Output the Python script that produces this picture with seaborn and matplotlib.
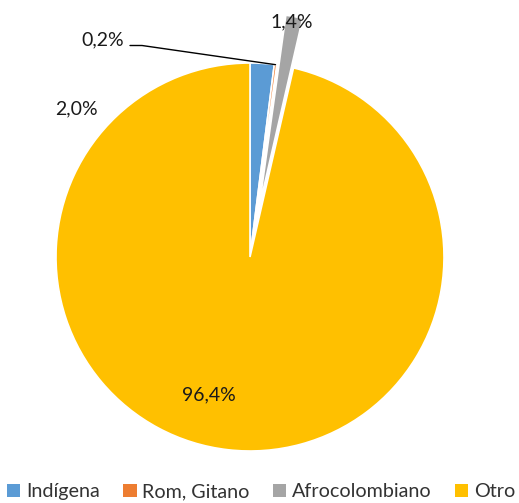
import matplotlib.pyplot as plt
import numpy as np
import seaborn as sns
from matplotlib.patches import Patch

categorias = ['Indígena', 'Rom, Gitano', 'Afrocolombiano', 'Otro']
porcentajes = [2.0, 0.2, 1.4, 96.4]
etiquetas = ['2,0%', '0,2%', '1,4%', '96,4%']
colores = ['#5B9BD5', '#ED7D31', '#A5A5A5', '#FFC000']

sns.set_theme(style='white')
plt.rcParams['font.family'] = ['Lato', 'DejaVu Sans']

W, H = 519, 503
cx, cy, R = 250, 257, 194  # pie centre and radius in pixels


def px(x, y):
    # pixel position -> data coords (radius = 1)
    return (x - cx) / R, (cy - y) / R


fig = plt.figure(figsize=(W / 100, H / 100), dpi=100)
ax = fig.add_axes([0, 0, 1, 1])
wedges, _ = ax.pie(porcentajes, colors=colores, startangle=90, counterclock=False,
                   explode=[0, 0, 0.26, 0], radius=1,
                   wedgeprops=dict(edgecolor='white', linewidth=1.2))
ax.set_xlim(-cx / R, (W - cx) / R)
ax.set_ylim(-(H - cy) / R, cy / R)
ax.set_aspect('auto')
ax.axis('off')

# etiquetas de datos
pos_etiquetas = [(76, 109), (103, 40), (292, 22), (209, 395)]
for txt, (x, y) in zip(etiquetas, pos_etiquetas):
    ax.text(*px(x, y), txt, ha='center', va='center', fontsize=14, color='#1a1a1a')

# linea guia para 0,2%
w = wedges[1]
ang = np.deg2rad((w.theta1 + w.theta2) / 2)
x0, y0 = px(130, 45.5)
x1, y1 = px(142, 45.5)
ax.plot([x0, x1, np.cos(ang)], [y0, y1, np.sin(ang)], color='black', lw=1)

handles = [Patch(facecolor=c, edgecolor='none') for c in colores]
leg = fig.legend(handles, categorias, loc='lower center', ncol=4, frameon=False,
                 bbox_to_anchor=(0.503, -0.03), fontsize=14.2, handlelength=0.7, handleheight=0.7,
                 handletextpad=0.3, columnspacing=1.15)
for t in leg.get_texts():
    t.set_color('#333333')

fig.savefig('out.png', dpi=100)
